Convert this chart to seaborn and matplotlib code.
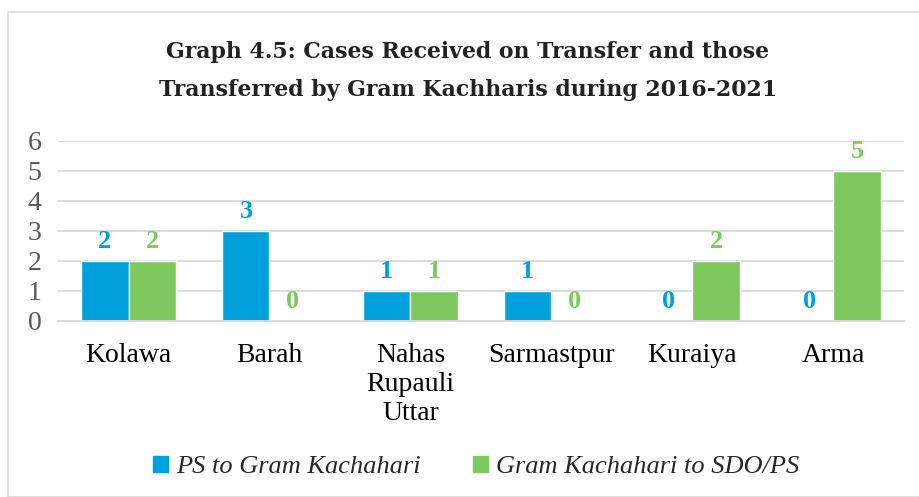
import pandas as pd
import numpy as np
import matplotlib
matplotlib.use('Agg')
import matplotlib.pyplot as plt
import seaborn as sns
from matplotlib.patches import Rectangle

categories = ['Kolawa', 'Barah', 'Nahas\nRupauli\nUttar', 'Sarmastpur', 'Kuraiya', 'Arma']
ps_to_gk = [2, 3, 1, 1, 0, 0]
gk_to_sdo = [2, 0, 1, 0, 2, 5]
series = ['PS to Gram Kachahari', 'Gram Kachahari to SDO/PS']
colors = ['#00A0DC', '#7DC95E']

df = pd.DataFrame({
    'place': categories * 2,
    'cases': ps_to_gk + gk_to_sdo,
    'series': [series[0]] * len(categories) + [series[1]] * len(categories),
})

sns.set_style('white')
plt.rcParams['font.family'] = ['Liberation Serif', 'DejaVu Serif']

fig = plt.figure(figsize=(9.19, 4.97), dpi=100)
ax = fig.add_axes([58 / 919, 1 - 321 / 497, 846 / 919, 180 / 497])

sns.barplot(data=df, x='place', y='cases', hue='series', palette=colors,
            width=0.667, saturation=1, ax=ax, legend=False)

ax.set_ylim(0, 6)
ax.set_yticks(range(0, 7))
ax.yaxis.grid(True, color='#D9D9D9', linewidth=1.3)
ax.set_axisbelow(True)
for s in ['top', 'right', 'left']:
    ax.spines[s].set_visible(False)
ax.spines['bottom'].set_color('#D9D9D9')
ax.spines['bottom'].set_linewidth(1.3)
ax.tick_params(axis='both', length=0, labelsize=20, colors='#595959')
ax.tick_params(axis='x', pad=16, labelcolor='black')
ax.tick_params(axis='y', pad=12)
for lbl in ax.get_xticklabels():
    lbl.set_linespacing(1.2)
    lbl.set_verticalalignment('top')
ax.set_xlabel('')
ax.set_ylabel('')

for cont, col in zip(ax.containers, colors):
    ax.bar_label(cont, fmt='%d', padding=6, color=col, fontsize=19, fontweight='bold')

title_font = {'family': 'DejaVu Serif', 'fontsize': 15.8, 'fontweight': 'bold', 'color': '#222222'}
fig.text(0.509, 1 - 52 / 497, 'Graph 4.5: Cases Received on Transfer and those',
         ha='center', va='center', **title_font)
fig.text(0.509, 1 - 90 / 497, 'Transferred by Gram Kachharis during 2016-2021',
         ha='center', va='center', **title_font)

handles = [Rectangle((0, 0), 1, 1, color=c) for c in colors]
fig.legend(handles, series, loc='center', bbox_to_anchor=(0.518, 1 - 467 / 497),
           ncol=2, frameon=False, handlelength=0.55, handleheight=0.55,
           handletextpad=0.3, columnspacing=2.0,
           prop={'style': 'italic', 'size': 19})

fig.patches.append(Rectangle((8 / 919, 0), 1, 1 - 12 / 497, transform=fig.transFigure,
                             fill=False, edgecolor='#D9D9D9', linewidth=1.2))

fig.savefig('out.png', dpi=100)
